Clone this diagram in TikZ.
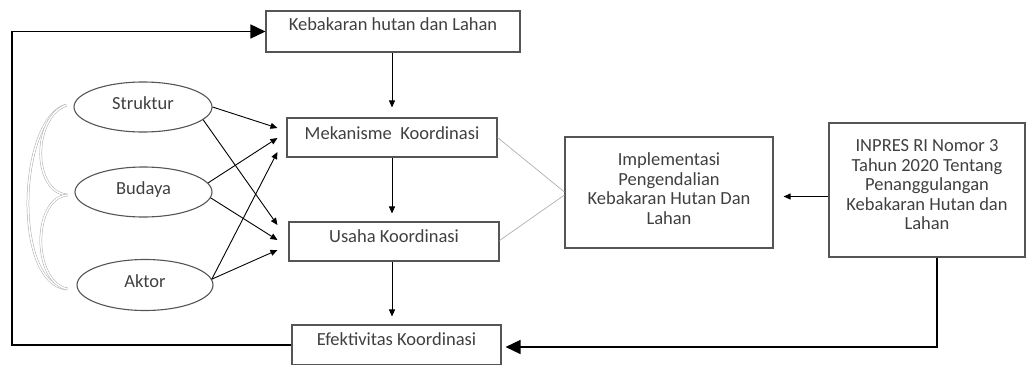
\documentclass[tikz,border=0pt]{standalone}
\usepackage{fontspec}
\setmainfont{Carlito}
\usetikzlibrary{arrows.meta,calc,shapes.geometric}
\definecolor{boxline}{HTML}{555555}
\definecolor{txt}{HTML}{404040}
\definecolor{thin}{HTML}{B0B0B0}
\newcommand\lift[2]{\raisebox{#1}[\height][\depth]{\begin{tabular}{@{}c@{}}#2\end{tabular}}}
\begin{document}
\begin{tikzpicture}[x=1pt,y=-1pt,
  every node/.style={font=\fontsize{18.5}{19.5}\selectfont, text=txt, inner sep=0pt},
  boxnode/.style={draw=boxline, line width=1.1pt, rectangle},
  ellnode/.style={draw=boxline, line width=1.1pt, ellipse},
  smallarr/.style={draw=black, line width=0.9pt, -{Triangle[length=7pt,width=6pt]}},
  bigarr/.style={draw=black, line width=1.5pt, -{Triangle[length=15pt,width=14pt]}},
  thinline/.style={draw=thin, line width=0.7pt},
  bracket/.style={draw=gray!65, line width=0.5pt, double=white, double distance=1.5pt}
]
\useasboundingbox (0,0) rectangle (1027,364);

% boxes
\node[boxnode, minimum width=254pt, minimum height=41pt] (keb) at (393,31.5) {\lift{5pt}{Kebakaran hutan dan Lahan}};
\node[boxnode, minimum width=210pt, minimum height=39pt] (mek) at (392,137.5) {\lift{2pt}{Mekanisme\ \ Koordinasi}};
\node[boxnode, minimum width=210pt, minimum height=39pt] (usa) at (394,241.5) {\lift{2.5pt}{Usaha Koordinasi}};
\node[boxnode, minimum width=209pt, minimum height=40pt] (efe) at (396.5,345) {\lift{3pt}{Efektivitas Koordinasi}};
\node[boxnode, minimum width=208pt, minimum height=111pt] (imp) at (669,192.5) {\lift{1.5pt}{Implementasi\\Pengendalian\\Kebakaran Hutan Dan\\Lahan}};
\node[boxnode, minimum width=196pt, minimum height=134pt] (inp) at (927,190) {\lift{3pt}{INPRES RI Nomor 3\\Tahun 2020 Tentang\\Penanggulangan\\Kebakaran Hutan dan\\Lahan}};

% ellipses
\node[ellnode, minimum width=138pt, minimum height=50pt] (str) at (143,107) {\lift{1pt}{Struktur}};
\node[ellnode, minimum width=137pt, minimum height=50pt] (bud) at (143.5,192) {\lift{1pt}{Budaya}};
\node[ellnode, minimum width=136pt, minimum height=51pt] (akt) at (145,285) {\lift{1pt}{Aktor}};

% brackets
\draw[bracket] ($(str.west)+(-7,-2)$) .. controls (18,118) and (12,285) .. ($(akt.west)+(-9,4)$);
\draw[bracket] ($(str.west)+(-7,-2)$) .. controls (32,118) and (32,192) .. ($(bud.west)+(-7,3)$);
\draw[bracket] ($(bud.west)+(-7,3)$) .. controls (32,198) and (32,282) .. ($(akt.west)+(-9,4)$);

% ellipse arrows
\draw[smallarr] (str.east) -- ($(mek.west)+(-9,-9.5)$);
\draw[smallarr] (bud.8) -- ($(mek.west)+(-9,0.5)$);
\draw[smallarr] (akt.5) -- ($(mek.west)+(-9,14.5)$);
\draw[smallarr] (str.-12) -- ($(usa.west)+(-11,-16.5)$);
\draw[smallarr] (bud.-5) -- ($(usa.west)+(-11,-1.5)$);
\draw[smallarr] (akt.5) -- ($(usa.west)+(-11,8.5)$);

% vertical arrows
\draw[smallarr] (keb.south -| mek.north) -- ($(mek.north)+(0,-10)$);
\draw[smallarr] (mek.south) -- ($(usa.north -| mek.south)+(0,-8)$);
\draw[smallarr] (usa.south -| mek.south) -- ($(efe.north -| mek.south)+(0,-8)$);

% thin grey lines to Implementasi
\draw[thinline] (mek.east) -- ($(imp.west)+(0,-0.5)$);
\draw[thinline] ($(usa.east)+(0,-1)$) -- ($(imp.west)+(0,2.5)$);

% INPRES -> Implementasi
\draw[smallarr] ($(inp.west)+(0,6.5)$) -- ($(imp.east)+(10,4)$);

% INPRES -> Efektivitas
\coordinate (rc) at ($(inp.south)+(10,0)$);
\draw[bigarr] (rc) |- ($(efe.east)+(4,2)$);

% Efektivitas -> Kebakaran (feedback)
\coordinate (lc) at (12,0);
\draw[bigarr] (efe.west) -- (lc |- efe.west) -- (lc |- keb.west) -- (keb.west);
\end{tikzpicture}
\end{document}
